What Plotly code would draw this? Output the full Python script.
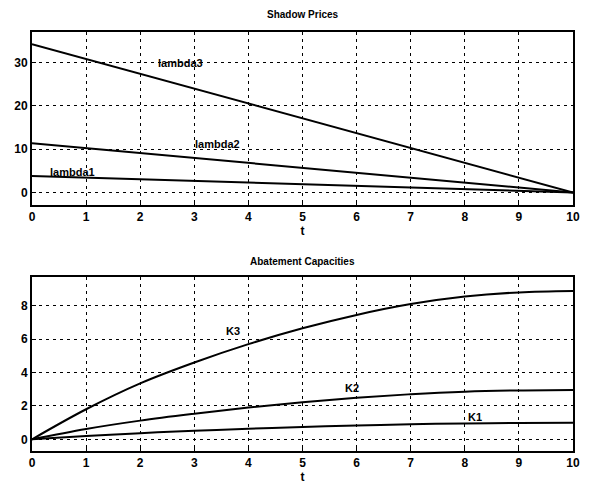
import plotly.graph_objects as go
from plotly.subplots import make_subplots

t_lin = [0, 10]
lambda1 = [3.8, 0.0]
lambda2 = [11.4, 0.0]
lambda3 = [34.3, 0.0]

t = [0, 1, 2, 3, 4, 5, 6, 7, 8, 9, 10]
K3 = [0, 1.80, 3.35, 4.6, 5.7, 6.65, 7.45, 8.1, 8.55, 8.8, 8.88]
K2 = [0, 0.62, 1.12, 1.53, 1.9, 2.22, 2.49, 2.7, 2.85, 2.93, 2.96]
K1 = [0, 0.20, 0.37, 0.51, 0.63, 0.74, 0.83, 0.9, 0.95, 0.98, 0.99]

xticks = [0, 1, 2, 3, 4, 5, 6, 7, 8, 9, 10]
yticks_top = [0, 10, 20, 30]
yticks_bot = [0, 2, 4, 6, 8]

FONT = "Liberation Sans, Arial, sans-serif"

fig = make_subplots(rows=2, cols=1, vertical_spacing=0.171)
fig.update_yaxes(domain=[0.587, 1.0], row=1, col=1)
fig.update_yaxes(domain=[0.0, 0.416], row=2, col=1)

line = dict(color="black", width=2)
for y in (lambda3, lambda2, lambda1):
    fig.add_trace(go.Scatter(x=t_lin, y=y, mode="lines", line=line, showlegend=False), row=1, col=1)
for y in (K3, K2, K1):
    fig.add_trace(go.Scatter(x=t, y=y, mode="lines", line=dict(color="black", width=2, shape="spline"),
                             showlegend=False), row=2, col=1)

axis_common = dict(
    showline=True, linecolor="black", linewidth=2, mirror=True,
    showgrid=True, gridcolor="black", gridwidth=1, griddash="3px,4px",
    ticks="inside", ticklen=4, tickcolor="black",
    zeroline=False, automargin=False,
    tickfont=dict(family=FONT, size=12, color="black", weight="bold"),
)
for r in (1, 2):
    fig.update_xaxes(range=[0, 10], tickvals=xticks, **axis_common,
                     title=dict(text="<b>t</b>", font=dict(family=FONT, size=12, color="black"), standoff=0),
                     row=r, col=1)
fig.update_yaxes(range=[-2.9, 37.1], tickvals=yticks_top, **axis_common, row=1, col=1)
fig.update_yaxes(range=[-0.7, 9.74], tickvals=yticks_bot, **axis_common, row=2, col=1)

lab_font = dict(family=FONT, size=11, color="black", weight="bold")
annos = [
    ("x", "y", 2.74, 30.0, "lambda3"),
    ("x", "y", 3.42, 11.2, "lambda2"),
    ("x", "y", 0.74, 4.8, "lambda1"),
    ("x2", "y2", 3.72, 6.5, "K3"),
    ("x2", "y2", 5.91, 3.1, "K2"),
    ("x2", "y2", 8.19, 1.35, "K1"),
]
for xr, yr, xv, yv, txt in annos:
    fig.add_annotation(xref=xr, yref=yr, x=xv, y=yv, text=txt, showarrow=False, font=lab_font)

title_font = dict(family=FONT, size=10, color="black", weight="bold")
fig.add_annotation(xref="paper", yref="paper", x=0.5, y=1.0, yshift=10, text="Shadow Prices",
                   showarrow=False, font=title_font, yanchor="bottom")
fig.add_annotation(xref="paper", yref="paper", x=0.5, y=0.416, yshift=8, text="Abatement Capacities",
                   showarrow=False, font=title_font, yanchor="bottom")

fig.update_layout(
    width=584, height=478,
    margin=dict(l=24, r=19, t=24, b=35),
    plot_bgcolor="white", paper_bgcolor="white",
)
fig.write_html("out.html")
